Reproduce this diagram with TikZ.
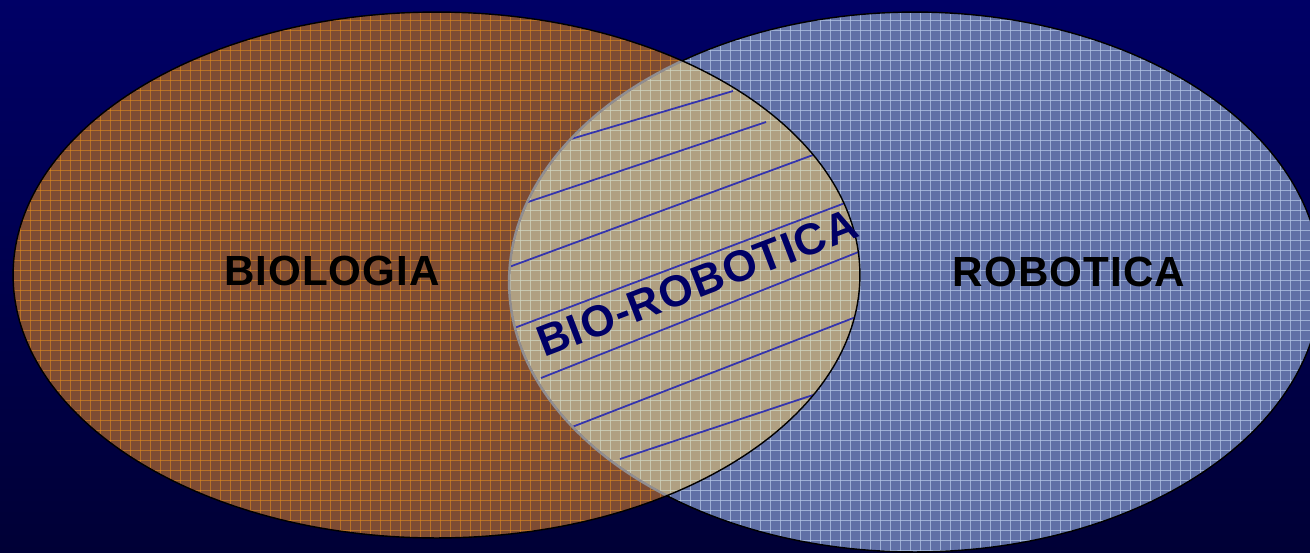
\documentclass[tikz,border=0pt]{standalone}
\usepackage{fontspec}
\setmainfont{Liberation Sans}
\newfontfamily\labelfont{Liberation Sans}[LetterSpace=2.5]
\usetikzlibrary{positioning}
\definecolor{bgtop}{HTML}{000066}
\definecolor{bgbot}{HTML}{000036}
\definecolor{biobrown}{HTML}{7E4C33}
\definecolor{biogrid}{HTML}{E8901C}
\definecolor{roboblue}{HTML}{6070A6}
\definecolor{robogrid}{HTML}{B8CAE8}
\definecolor{lenstan}{HTML}{B0A082}
\definecolor{lensgrid}{HTML}{D2D8C4}
\definecolor{hatchblue}{HTML}{3434AE}
\definecolor{labelnavy}{HTML}{000066}

% the two sets
\newcommand{\bioset}{(436.5,-275) ellipse [x radius=8.47cm, y radius=5.26cm]}
\newcommand{\roboset}{(915,-282) ellipse [x radius=8.12cm, y radius=5.4cm]}
\newcommand{\gridlines}{%
  \foreach \gx in {0,10,...,1310} \draw (\gx,0) -- (\gx,-552);
  \foreach \gy in {0,10,...,550} \draw (0,-\gy) -- (1310,-\gy);}

\begin{document}
\begin{tikzpicture}[
  x=0.02cm, y=0.02cm,
  gridline/.style={line width=0.45pt, opacity=0.7},
  hatch/.style={hatchblue, line width=1pt},
  setlabel/.style={font=\labelfont\fontsize{24}{24}\selectfont\bfseries, text=black},
]
\useasboundingbox (0,0) rectangle (1310,-552);
\shade[top color=bgtop, bottom color=bgbot] (0,0) rectangle (1310,-552);

% Biologia
\fill[biobrown] \bioset;
\begin{scope}
  \clip \bioset;
  \begin{scope}[gridline, draw=biogrid, opacity=0.55] \gridlines \end{scope}
\end{scope}

% Robotica
\fill[roboblue] \roboset;
\begin{scope}
  \clip \roboset;
  \begin{scope}[gridline, draw=robogrid] \gridlines \end{scope}
\end{scope}

% overlap
\begin{scope}
  \clip \bioset;
  \clip \roboset;
  \fill[lenstan] (0,0) rectangle (1310,-552);
  \begin{scope}[gridline, draw=lensgrid] \gridlines \end{scope}
  \draw[hatch] (571,-139) -- (733,-91);
  \draw[hatch] (525,-203) -- (766,-122);
  \draw[hatch] (509,-267) -- (813,-155);
  \draw[hatch] (509,-330) -- (845,-203);
  \draw[hatch] (541,-378) -- (861,-251);
  \draw[hatch] (572,-427) -- (861,-315);
  \draw[hatch] (620,-459) -- (813,-395);
\end{scope}

% outlines
\draw[black, line width=0.8pt] \roboset;
\begin{scope}
  \clip \bioset;
  \draw[lenstan!60!roboblue, line width=1.4pt] \roboset;
\end{scope}
\draw[black, line width=0.8pt] \bioset;

% Labels
\node[setlabel] (bio) at (332,-271) {BIOLOGIA};
\node[setlabel] (robo) at (1069,-272) {ROBOTICA};
\node[setlabel, text=labelnavy, font=\labelfont\fontsize{25}{25}\selectfont\bfseries, rotate=21]
  (biorobo) at (697,-283) {BIO-ROBOTICA};
\end{tikzpicture}
\end{document}
